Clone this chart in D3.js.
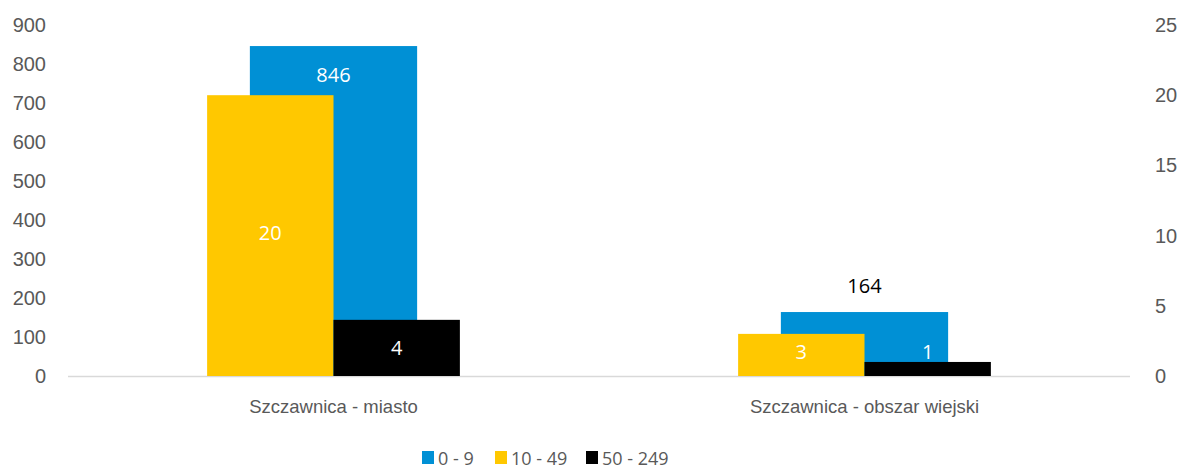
<!DOCTYPE html>
<html>
<head>
<meta charset="utf-8">
<script src="https://cdn.jsdelivr.net/npm/d3@7"></script>
<style>
  html, body { margin: 0; padding: 0; background: #fff; }
  svg { display: block; font-family: 'Open Sans', sans-serif; }
</style>
</head>
<body>
<div id="chart"></div>
<script>
// Chart data
const categories = ['Szczawnica - miasto', 'Szczawnica - obszar wiejski'];
const seriesNames = ['0 - 9', '10 - 49', '50 - 249'];
const micro = [846, 164];   // left axis
const small = [20, 3];      // right axis
const medium = [4, 1];      // right axis
const leftTicks = [0, 100, 200, 300, 400, 500, 600, 700, 800, 900];
const rightTicks = [0, 5, 10, 15, 20, 25];

const COLORS = { micro: '#0090D5', small: '#FFC800', medium: '#000000' };
const TEXT = '#595959';

const width = 1181, height = 468;
const margin = { left: 68, right: 51, top: 25, bottom: 92 };
const plotBottom = height - margin.bottom;

const svg = d3.select('#chart').append('svg')
  .attr('width', width)
  .attr('height', height);

const x = d3.scaleBand()
  .domain(categories)
  .range([margin.left, width - margin.right])
  .padding(0);

const yLeft = d3.scaleLinear().domain([0, 900]).range([plotBottom, margin.top]);
const yRight = d3.scaleLinear().domain([0, 25]).range([plotBottom, margin.top]);

const bw = x.bandwidth();
const blueW = bw * 0.315;
const sideW = bw * 0.238;
const cx = c => x(c) + bw / 2;

// axis baseline
svg.append('line')
  .attr('x1', margin.left).attr('x2', width - margin.right)
  .attr('y1', plotBottom + 0.5).attr('y2', plotBottom + 0.5)
  .attr('stroke', '#d9d9d9').attr('stroke-width', 1.5);

// left axis
const leftAxis = svg.append('g')
  .attr('transform', `translate(${margin.left - 22},0)`)
  .call(d3.axisLeft(yLeft).tickValues(leftTicks).tickSize(0).tickPadding(0));
leftAxis.select('.domain').remove();
leftAxis.selectAll('text').attr('fill', TEXT).style('font-size', '20px');

// right axis
const rightAxis = svg.append('g')
  .attr('transform', `translate(${width - margin.right + 25},0)`)
  .call(d3.axisRight(yRight).tickValues(rightTicks).tickSize(0).tickPadding(0));
rightAxis.select('.domain').remove();
rightAxis.selectAll('text').attr('fill', TEXT).style('font-size', '20px');

// category labels
svg.append('g')
  .attr('transform', `translate(0,${plotBottom})`)
  .call(d3.axisBottom(x).tickSize(0).tickPadding(24))
  .call(g => g.select('.domain').remove())
  .selectAll('text').attr('fill', TEXT).style('font-size', '18.5px');

// blue bars (primary axis), drawn behind
svg.append('g').selectAll('rect')
  .data(categories)
  .join('rect')
  .attr('x', c => cx(c) - blueW / 2)
  .attr('width', blueW)
  .attr('y', (c, i) => yLeft(micro[i]))
  .attr('height', (c, i) => plotBottom - yLeft(micro[i]))
  .attr('fill', COLORS.micro);

// yellow bars (secondary axis)
svg.append('g').selectAll('rect')
  .data(categories)
  .join('rect')
  .attr('x', c => cx(c) - sideW)
  .attr('width', sideW)
  .attr('y', (c, i) => yRight(small[i]))
  .attr('height', (c, i) => plotBottom - yRight(small[i]))
  .attr('fill', COLORS.small);

// black bars (secondary axis)
svg.append('g').selectAll('rect')
  .data(categories)
  .join('rect')
  .attr('x', c => cx(c))
  .attr('width', sideW)
  .attr('y', (c, i) => yRight(medium[i]))
  .attr('height', (c, i) => plotBottom - yRight(medium[i]))
  .attr('fill', COLORS.medium);

// data labels
const labels = svg.append('g')
  .style('font-size', '20px')
  .attr('text-anchor', 'middle')
  .attr('dominant-baseline', 'central');

categories.forEach((c, i) => {
  // blue: inside end, or above the bar when short
  const top = yLeft(micro[i]);
  const tall = plotBottom - top > 100;
  labels.append('text')
    .attr('x', cx(c))
    .attr('y', tall ? top + 28 : top - 27)
    .attr('fill', tall ? '#fff' : '#000')
    .text(micro[i]);

  // yellow: centered
  const ty = yRight(small[i]);
  labels.append('text')
    .attr('x', cx(c) - sideW / 2)
    .attr('y', (ty + plotBottom) / 2 - 3)
    .attr('fill', '#fff')
    .text(small[i]);

  // black: centered, lifted when the bar is too thin
  const tb = yRight(medium[i]);
  const fits = plotBottom - tb > 30;
  labels.append('text')
    .attr('x', cx(c) + sideW / 2)
    .attr('y', fits ? (tb + plotBottom) / 2 : tb - 10)
    .attr('fill', '#fff')
    .text(medium[i]);
});

// legend
const legendColors = [COLORS.micro, COLORS.small, COLORS.medium];
const legendX = [422, 495, 586];
const legend = svg.append('g');
seriesNames.forEach((name, i) => {
  const g = legend.append('g').attr('transform', `translate(${legendX[i]},464)`);
  g.append('rect')
    .attr('x', 0).attr('y', -13)
    .attr('width', 12).attr('height', 13)
    .attr('fill', legendColors[i]);
  g.append('text')
    .attr('x', 16).attr('y', -6.5)
    .attr('dominant-baseline', 'central')
    .attr('fill', TEXT)
    .style('font-size', '18px')
    .text(name);
});
</script>
</body>
</html>
